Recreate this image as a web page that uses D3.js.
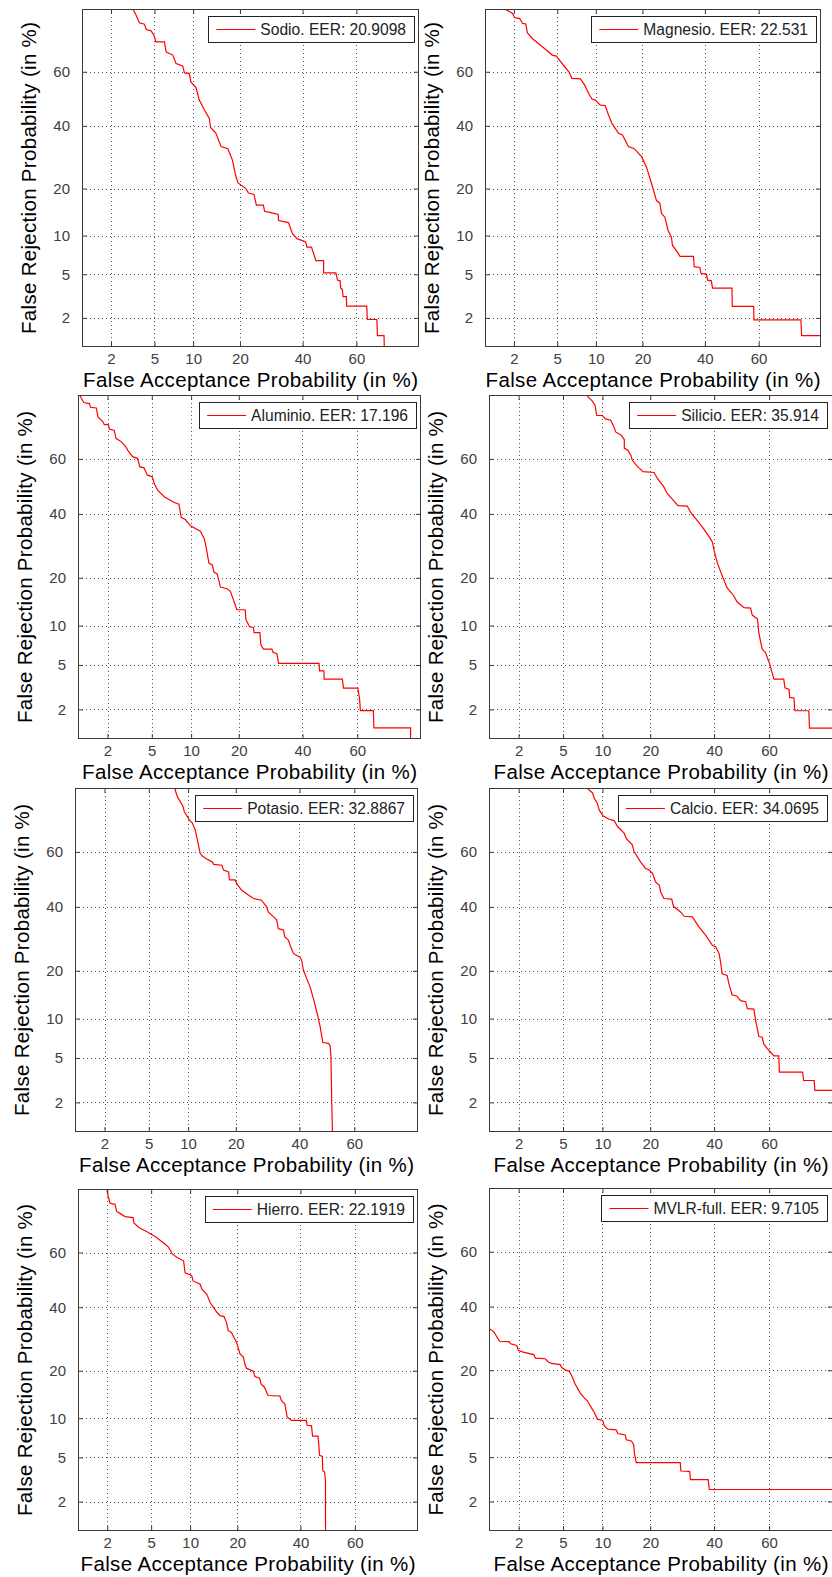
<!DOCTYPE html>
<html>
<head>
<meta charset="utf-8">
<script src="https://cdn.jsdelivr.net/npm/d3@7/dist/d3.min.js"></script>
<style>
  html, body { margin: 0; padding: 0; background: #fff; }
  svg { display: block; }
  text { font-family: "Liberation Sans", Arial, Helvetica, sans-serif; }
</style>
</head>
<body>
<svg id="chart" width="832" height="1577"></svg>
<script>
// DET curves (false acceptance vs false rejection, both in %), one per element
const sodio = [[3.16,80.5],[3.45,78.4],[3.70,76.2],[4.1,75.8],[4.24,74.2],[4.68,73.8],[4.98,72.1],[5.13,70.3],[6.04,70.3],[6.23,67.0],[7.03,65.9],[7.46,62.96],[8.38,62.1],[8.63,59.6],[9.38,59.4],[9.63,56.3],[10.48,54.2],[11.05,49.5],[12.0,45.8],[12.93,42.7],[13.2,39.4],[14.3,37.3],[15.4,32.7],[16.98,32.0],[18.1,28.2],[18.9,23.6],[19.5,21.5],[21.6,20.0],[22.3,18.85],[23.9,18.5],[24.6,15.95],[26.7,15.95],[27.1,14.6],[29.1,14.3],[31.5,13.9],[31.6,12.7],[35.0,12.3],[36.4,10.3],[38.0,9.5],[41.2,8.98],[41.6,8.23],[43.3,8.23],[44.3,7.1],[44.9,6.47],[47.8,6.47],[47.8,5.13],[52.4,5.13],[53.0,4.46],[54.0,4.4],[54.2,3.8],[54.8,3.7],[55.1,3.18],[56.3,3.18],[56.4,2.6],[63.7,2.6],[63.9,1.93],[67.2,1.93],[67.4,1.32],[69.6,1.32],[69.7,0.9]];

const magnesio = [[1.57,80.2],[1.94,78.8],[2.02,77.7],[2.28,77.4],[2.43,76.0],[2.61,75.85],[2.70,73.2],[3.0,71.4],[3.41,69.8],[3.97,67.8],[4.53,65.9],[4.91,65.54],[5.48,62.96],[6.23,60.0],[6.6,57.6],[7.69,57.4],[8.28,55.1],[8.88,52.0],[9.38,49.9],[9.91,49.5],[10.77,47.6],[11.64,47.5],[12.28,43.9],[12.93,40.9],[14.29,37.3],[15.15,36.7],[16.5,32.7],[17.9,32.0],[19.8,29.3],[21.1,26.0],[22.5,21.3],[23.9,17.0],[24.9,16.4],[25.4,14.1],[26.4,13.4],[27.4,10.9],[28.5,9.7],[28.8,8.5],[30.5,7.5],[31.3,6.98],[35.9,6.98],[36.2,5.78],[38.2,5.7],[38.6,5.1],[40.6,5.0],[41.0,4.46],[42.4,4.4],[42.8,3.8],[50.1,3.8],[50.2,2.58],[58.2,2.58],[58.3,1.91],[74.3,1.91],[74.5,1.32],[81,1.32]];

const aluminio = [[1.0,80.5],[1.05,79.8],[1.15,78.0],[1.32,77.7],[1.35,76.7],[1.55,76.5],[1.61,73.9],[1.79,72.57],[1.86,71.5],[2.04,71.5],[2.08,70.1],[2.32,69.7],[2.41,67.1],[2.69,66.0],[2.98,64.2],[3.09,63.1],[3.42,60.8],[3.78,60.2],[3.96,57.1],[4.30,56.8],[4.58,54.2],[5.05,53.5],[5.23,51.1],[5.58,48.6],[6.34,46.1],[7.53,44.1],[8.16,43.5],[8.5,38.7],[9.1,38.0],[9.9,35.8],[11.57,34.0],[12.3,31.5],[12.7,28.3],[13.2,24.0],[13.9,23.4],[14.2,21.5],[14.9,21.0],[15.6,17.7],[17.1,17.3],[17.9,16.7],[18.7,14.7],[19.5,12.8],[21.7,12.8],[21.9,11.0],[22.9,9.8],[24.0,9.7],[24.2,8.9],[25.9,8.9],[26.2,7.2],[27.0,6.7],[29.6,6.7],[30.0,6.3],[31.2,6.2],[31.8,5.16],[46.0,5.16],[46.2,4.46],[47.8,4.46],[47.9,3.79],[54.6,3.79],[55.0,3.16],[60.2,3.16],[60.8,2.52],[61.1,1.95],[65.6,1.95],[65.8,1.31],[77.2,1.31],[77.2,0.9]];

const silicio = [[7.53,80.2],[8.04,79.2],[8.5,78.3],[8.87,77.1],[9.1,74.3],[9.99,74.3],[10.5,73.3],[11.4,72.9],[12.0,70.8],[12.3,69.2],[13.3,68.2],[14.0,66.7],[14.0,63.7],[14.7,63.1],[15.4,61.3],[15.7,59.5],[16.9,57.2],[18.2,55.4],[21.0,55.1],[21.9,52.9],[23.7,49.8],[24.7,47.3],[26.5,44.9],[27.9,43.0],[30.85,42.8],[31.9,40.6],[34.1,37.7],[35.9,35.4],[38.2,32.2],[39.4,30.4],[40.0,27.8],[41.1,24.2],[42.9,20.5],[44.7,17.5],[47.1,15.7],[48.3,14.4],[50.9,13.2],[53.3,13.1],[53.9,11.8],[55.8,11.1],[56.3,8.85],[57.5,6.7],[58.7,6.3],[60.2,5.1],[61.7,3.8],[65.1,3.8],[65.5,3.18],[66.9,3.08],[67.1,2.6],[68.5,2.57],[68.8,1.94],[73.2,1.94],[73.4,1.30],[81,1.30]];

const potasio = [[7.9,80.5],[8.36,77.7],[9.2,74.9],[9.4,73.3],[10.2,70.8],[10.7,69.8],[11.2,67.6],[11.5,64.9],[12.1,59.5],[12.5,58.5],[13.5,57.3],[14.5,56.4],[14.8,55.5],[16.6,55.2],[17.0,53.4],[18.2,52.7],[18.4,49.8],[19.8,49.8],[20.5,47.9],[21.6,46.0],[23.5,44.2],[24.9,43.0],[27.3,42.4],[28.9,40.0],[29.4,38.2],[31.1,36.5],[32.1,35.6],[32.7,32.5],[34.4,32.1],[34.9,29.8],[36.1,28.8],[36.7,27.2],[37.9,24.7],[40.2,23.7],[40.8,22.8],[41.4,20.2],[42.4,18.4],[43.9,16.0],[45.1,13.5],[46.3,11.1],[47.5,8.8],[48.5,6.65],[50.6,6.55],[51.2,6.3],[51.5,5.1],[51.6,3.9],[51.8,1.93],[52.1,0.9]];

const calcio = [[7.4,80.5],[8.5,78.7],[8.73,77.3],[9.2,75.8],[9.5,73.8],[10.1,72.1],[11.1,71.0],[12.0,70.6],[12.7,68.6],[14.0,66.4],[14.4,64.7],[15.7,62.5],[16.1,60.1],[17.6,56.4],[18.8,54.0],[19.6,53.6],[20.6,52.2],[21.4,49.1],[22.4,47.9],[22.8,45.4],[23.7,43.0],[26.0,42.8],[26.5,40.2],[28.7,38.2],[29.8,36.7],[32.5,36.5],[34.7,33.1],[37.0,30.4],[39.4,27.2],[40.6,26.7],[41.8,24.7],[42.3,22.4],[42.9,19.2],[44.7,18.8],[45.3,16.9],[46.5,14.4],[48.3,14.1],[49.6,13.2],[51.5,13.0],[52.1,11.7],[54.5,11.6],[55.1,9.8],[56.3,7.4],[57.5,7.3],[58.1,6.45],[60.1,5.7],[61.7,5.2],[63.4,5.2],[63.6,3.8],[71.3,3.8],[71.6,3.2],[74.8,3.2],[75.0,2.6],[81,2.6]];

const hierro = [[1.97,80.5],[2.02,78.6],[2.13,76.1],[2.38,75.8],[2.46,73.7],[2.65,73.1],[2.95,72.1],[3.49,71.8],[3.55,70.1],[3.93,68.6],[4.61,67.2],[5.43,65.5],[6.4,63.2],[6.9,61.9],[7.4,59.4],[8.04,58.2],[8.97,57.0],[9.2,52.6],[10.25,51.6],[10.5,49.6],[11.75,48.4],[12.05,46.6],[13.0,44.7],[13.7,41.6],[15.1,38.2],[15.8,37.0],[16.7,36.7],[17.3,34.6],[17.7,31.9],[18.5,31.3],[19.8,28.1],[20.7,24.6],[21.6,23.7],[22.1,21.5],[22.5,20.6],[24.4,19.9],[24.9,18.5],[26.3,18.1],[26.8,16.7],[27.8,16.0],[28.9,14.2],[32.8,14.1],[33.3,13.2],[34.5,12.5],[35.0,11.0],[35.3,10.2],[36.8,9.65],[42.1,9.65],[42.4,8.9],[44.0,8.85],[44.4,7.4],[46.4,7.4],[46.6,6.7],[47.0,5.2],[48.0,5.1],[48.2,3.85],[48.8,3.79],[49.2,3.16],[49.2,0.9]];

const mvlrFull = [[0.95,33.0],[1.01,32.3],[1.12,31.4],[1.25,29.0],[1.29,28.3],[1.61,28.2],[1.67,27.5],[1.92,27.0],[1.99,25.5],[2.22,25.0],[2.78,24.3],[2.87,23.3],[3.52,23.1],[3.75,22.2],[4.0,21.8],[4.73,21.5],[4.88,20.7],[5.2,20.1],[5.65,19.7],[5.97,18.2],[6.25,16.7],[6.56,15.6],[6.95,14.4],[7.4,13.6],[7.8,13.0],[8.25,11.9],[8.75,10.9],[9.2,9.8],[10.05,9.6],[10.3,8.75],[10.9,8.3],[12.4,8.2],[12.7,7.7],[14.2,7.5],[14.4,6.9],[15.5,6.75],[16.0,6.35],[16.2,5.3],[16.6,4.5],[28.6,4.5],[28.8,3.82],[31.6,3.79],[31.9,3.2],[37.9,3.2],[38.3,2.6],[81,2.6]];

const seriesNames = ["Sodio", "Magnesio", "Aluminio", "Silicio", "Potasio", "Calcio", "Hierro", "MVLR-full"];
const eerValues = ["20.9098", "22.531", "17.196", "35.914", "32.8867", "34.0695", "22.1919", "9.7105"];
const curves = [sodio, magnesio, aluminio, silicio, potasio, calcio, hierro, mvlrFull];

const tickPercents = [2, 5, 10, 20, 40, 60];
const tickLabels = ["2", "5", "10", "20", "40", "60"];
const axisLimits = [1, 80];
const xTitle = "False Acceptance Probability (in %)";
const yTitle = "False Rejection Probability (in %)";

// Plot rectangles of the 4x2 grid
const frames = [
  {x0: 82,  x1: 419, y0: 9,    y1: 347},
  {x0: 485, x1: 821, y0: 9,    y1: 347},
  {x0: 78,  x1: 421, y0: 395,  y1: 739},
  {x0: 489, x1: 833, y0: 395,  y1: 739},
  {x0: 75,  x1: 418, y0: 788,  y1: 1132},
  {x0: 489, x1: 833, y0: 788,  y1: 1132},
  {x0: 78,  x1: 418, y0: 1189, y1: 1531},
  {x0: 489, x1: 833, y0: 1188, y1: 1531}
];

// Inverse of the standard normal CDF (Acklam's rational approximation)
function probit(p) {
  const a = [-3.969683028665376e+01, 2.209460984245205e+02, -2.759285104469687e+02, 1.383577518672690e+02, -3.066479806614716e+01, 2.506628277459239e+00];
  const b = [-5.447609879822406e+01, 1.615858368580409e+02, -1.556989798598866e+02, 6.680131188771972e+01, -1.328068155288572e+01];
  const c = [-7.784894002430293e-03, -3.223964580411365e-01, -2.400758277161838e+00, -2.549732539343734e+00, 4.374664141464968e+00, 2.938163982698783e+00];
  const d = [7.784695709041462e-03, 3.224671290700398e-01, 2.445134137142996e+00, 3.754408661907416e+00];
  const pl = 0.02425, ph = 1 - pl;
  let q, r;
  if (p < pl) {
    q = Math.sqrt(-2 * Math.log(p));
    return (((((c[0]*q + c[1])*q + c[2])*q + c[3])*q + c[4])*q + c[5]) / ((((d[0]*q + d[1])*q + d[2])*q + d[3])*q + 1);
  }
  if (p <= ph) {
    q = p - 0.5; r = q * q;
    return (((((a[0]*r + a[1])*r + a[2])*r + a[3])*r + a[4])*r + a[5])*q / (((((b[0]*r + b[1])*r + b[2])*r + b[3])*r + b[4])*r + 1);
  }
  q = Math.sqrt(-2 * Math.log(1 - p));
  return -(((((c[0]*q + c[1])*q + c[2])*q + c[3])*q + c[4])*q + c[5]) / ((((d[0]*q + d[1])*q + d[2])*q + d[3])*q + 1);
}
const dev = pct => probit(pct / 100);

const svg = d3.select("#chart");
svg.append("rect").attr("width", 832).attr("height", 1577).attr("fill", "#fff");

const axisColor = "#3a3a3a";
const tickTextColor = "#404040";

frames.forEach((f, i) => {
  const x = d3.scaleLinear().domain(axisLimits.map(dev)).range([f.x0, f.x1]);
  const y = d3.scaleLinear().domain(axisLimits.map(dev)).range([f.y1, f.y0]);
  const tz = tickPercents.map(dev);
  const g = svg.append("g");

  // dotted grid
  g.append("g").selectAll("line").data(tz).join("line")
    .attr("x1", d => Math.round(x(d)) + 0.5).attr("x2", d => Math.round(x(d)) + 0.5)
    .attr("y1", f.y0).attr("y2", f.y1)
    .attr("stroke", "#555").attr("stroke-width", 1).attr("stroke-dasharray", "1,3");
  g.append("g").selectAll("line").data(tz).join("line")
    .attr("y1", d => Math.round(y(d)) + 0.5).attr("y2", d => Math.round(y(d)) + 0.5)
    .attr("x1", f.x0).attr("x2", f.x1)
    .attr("stroke", "#555").attr("stroke-width", 1).attr("stroke-dasharray", "1,3");

  // curve
  const clipId = "clip" + i;
  g.append("clipPath").attr("id", clipId).append("rect")
    .attr("x", f.x0).attr("y", f.y0).attr("width", f.x1 - f.x0).attr("height", f.y1 - f.y0);
  const line = d3.line().x(d => x(dev(d[0]))).y(d => y(dev(d[1])));
  g.append("path").datum(curves[i])
    .attr("clip-path", `url(#${clipId})`)
    .attr("fill", "none").attr("stroke", "#ff0000").attr("stroke-width", 1.2)
    .attr("d", line);

  // axes: inward ticks on all four sides, labels on bottom and left
  const fmt = (d, k) => tickLabels[k];
  const bottom = g.append("g").attr("transform", `translate(0,${f.y1})`)
    .call(d3.axisBottom(x).tickValues(tz).tickFormat(fmt).tickSize(-5).tickSizeOuter(0).tickPadding(6));
  const left = g.append("g").attr("transform", `translate(${f.x0},0)`)
    .call(d3.axisLeft(y).tickValues(tz).tickFormat(fmt).tickSize(-5).tickSizeOuter(0).tickPadding(12));
  const top = g.append("g").attr("transform", `translate(0,${f.y0})`)
    .call(d3.axisTop(x).tickValues(tz).tickFormat("").tickSize(-5).tickSizeOuter(0));
  const right = g.append("g").attr("transform", `translate(${f.x1},0)`)
    .call(d3.axisRight(y).tickValues(tz).tickFormat("").tickSize(-5).tickSizeOuter(0));
  [bottom, left, top, right].forEach(a => {
    a.select(".domain").remove();
    a.selectAll("line").attr("stroke", axisColor);
    a.selectAll("text").attr("fill", tickTextColor)
      .style("font-family", '"Liberation Sans", Arial, sans-serif').style("font-size", "15px");
  });

  // frame
  g.append("rect").attr("x", f.x0 + 0.5).attr("y", f.y0 + 0.5)
    .attr("width", f.x1 - f.x0 - 1).attr("height", f.y1 - f.y0 - 1)
    .attr("fill", "none").attr("stroke", axisColor).attr("stroke-width", 1);

  // axis titles
  g.append("text")
    .attr("x", (f.x0 + f.x1) / 2).attr("y", f.y1 + 40)
    .attr("text-anchor", "middle").attr("fill", "#000")
    .attr("textLength", 335).attr("lengthAdjust", "spacing")
    .style("font-size", "20.5px").text(xTitle);
  g.append("text")
    .attr("transform", `translate(${f.x0 - 46},${(f.y0 + f.y1) / 2}) rotate(-90)`)
    .attr("text-anchor", "middle").attr("fill", "#000")
    .attr("textLength", 312).attr("lengthAdjust", "spacing")
    .style("font-size", "20.5px").text(yTitle);

  // legend
  const lg = g.append("g");
  const box = lg.append("rect");
  const label = lg.append("text")
    .attr("fill", "#222").style("font-size", "15.6px")
    .text(`${seriesNames[i]}. EER: ${eerValues[i]}`);
  const tw = label.node().getComputedTextLength();
  const bw = 8 + 39 + 5 + tw + 8;
  const bx = Math.min(f.x1, 832) - 5 - bw;
  const by = f.y0 + 7;
  box.attr("x", Math.round(bx) + 0.5).attr("y", by + 0.5).attr("width", Math.round(bw)).attr("height", 26)
    .attr("fill", "#fff").attr("stroke", "#222").attr("stroke-width", 1);
  lg.append("line").attr("x1", bx + 8).attr("x2", bx + 47).attr("y1", by + 13.5).attr("y2", by + 13.5)
    .attr("stroke", "#ff0000").attr("stroke-width", 1.2);
  label.attr("x", bx + 52).attr("y", by + 19);
});
</script>
</body>
</html>
